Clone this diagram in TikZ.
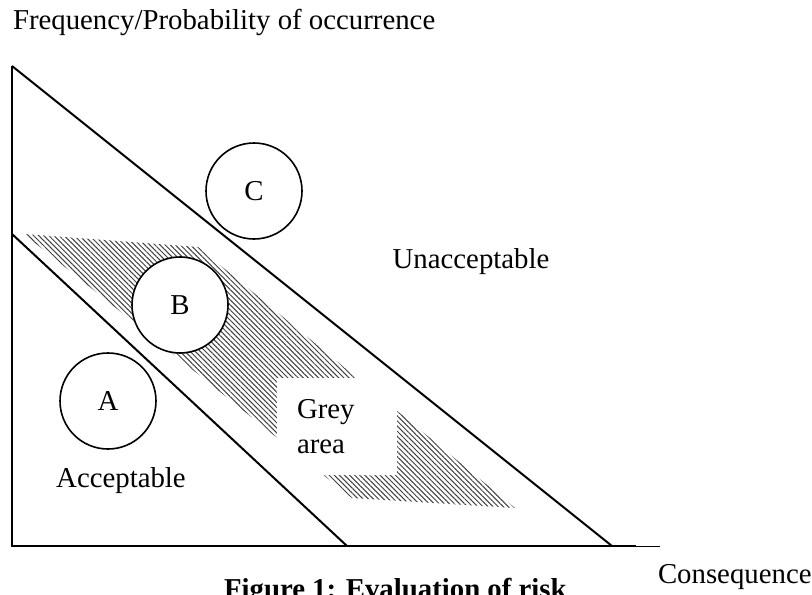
\documentclass[tikz,border=0pt]{standalone}
\usepackage{fontspec}
\setmainfont{Liberation Serif}
\usetikzlibrary{patterns.meta}

\begin{document}
\begin{tikzpicture}[x=0.5pt, y=-0.5pt, line width=1pt,
	lbl/.style={font=\fontsize{14.4}{17.5}\selectfont, inner sep=0pt},
	risk/.style={lbl, circle, draw, fill=white, line width=0.8pt, minimum size=48pt},
	greybox/.style={lbl, fill=white, anchor=north west, align=left, text width=40pt, inner xsep=10pt, minimum height=48.5pt},
	hatch/.style={pattern={Lines[angle=-45, distance=1.8pt, line width=0.5pt]}, pattern color=black!75}]

	\useasboundingbox (0,0) rectangle (812,594);

	% axes
	\coordinate (origin) at (12,546);
	\coordinate (ytop) at (12,66);
	\coordinate (xend) at (636,546);
	\coordinate (xtip) at (660,546);
	\draw (ytop) -- (origin) -- (xend);
	\draw[line width=0.5pt] (xend) -- (xtip);

	% hatched band
	\fill[hatch] (24,234) -- (198,247) -- (515,508) -- (352,498) -- cycle;

	% boundary lines
	\coordinate (lowtop) at (12,234);
	\coordinate (lowend) at (347,546);
	\coordinate (upend) at (612,546);
	\draw (ytop) -- (upend);
	\draw (lowtop) -- (lowend);

	% grey area
	\node[greybox] (grey) at (276,377) {Grey\\area};

	% risk points
	\node[risk] (A) at (108,401) {A};
	\node[risk] (B) at (180,305) {B};
	\node[risk] (C) at (254,191) {C};

	% region labels
	\node[lbl, anchor=base] (acc) at (121,487) {Acceptable};
	\node[lbl, anchor=base] (unacc) at (471,268) {Unacceptable};

	% axis labels
	\node[lbl, anchor=base west] (freq) at (12,29) {Frequency/Probability of occurrence};
	\node[lbl, anchor=base west] (cons) at (657,583) {Consequence};

	% caption
	\node[lbl, anchor=base west, font=\fontsize{14.4}{17.5}\selectfont\bfseries] (caption) at (223,598) {Figure 1: Evaluation of risk};

\end{tikzpicture}
\end{document}
